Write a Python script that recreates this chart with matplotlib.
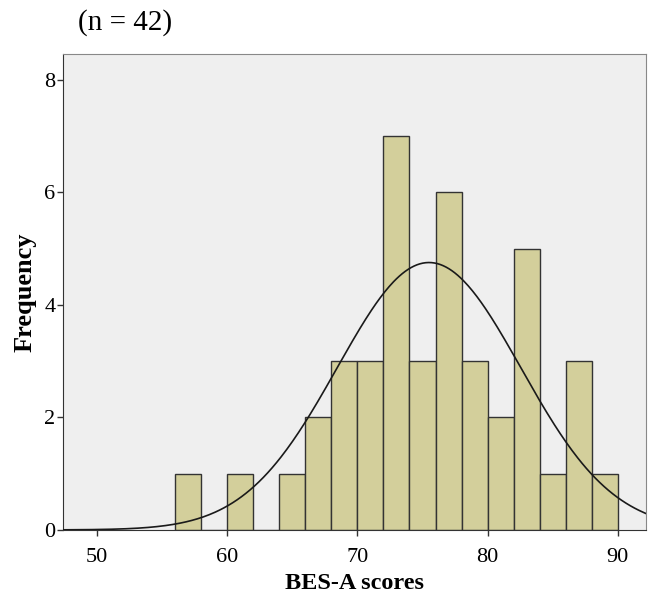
import numpy as np
import matplotlib.pyplot as plt

plt.rcParams['font.family'] = ['Liberation Serif', 'DejaVu Serif']

# histogram bins (left edges) and counts
bin_left = [56, 58, 60, 62, 64, 66, 68, 70, 72, 74, 76, 78, 80, 82, 84, 86, 88]
counts = [1, 0, 1, 0, 1, 2, 3, 3, 7, 3, 6, 3, 2, 5, 1, 3, 1]
bin_width = 2
n_total = 42
curve_mean = 75.5
curve_sd = 7.05

fig = plt.figure(figsize=(6.57, 6.07), dpi=100)
ax = fig.add_axes([0.096, 0.127, 0.887, 0.784])
ax.set_facecolor('#efefef')

ax.bar(bin_left, counts, width=bin_width, align='edge', color='#d3cf9b',
       edgecolor='#333333', linewidth=1.0, zorder=2)

xs = np.linspace(47.4, 92.2, 400)
ys = n_total * bin_width / (curve_sd * np.sqrt(2 * np.pi)) * np.exp(-0.5 * ((xs - curve_mean) / curve_sd) ** 2)
ax.plot(xs, ys, color='#1a1a1a', linewidth=1.2, zorder=3)

ax.set_xlim(47.4, 92.15)
ax.set_ylim(0, 8.46)
ax.set_xticks([50, 60, 70, 80, 90])
ax.set_yticks([0, 2, 4, 6, 8])
ax.tick_params(labelsize=16, length=4, width=1, color='#333333')
ax.tick_params(axis='x', pad=9)
ax.tick_params(axis='y', pad=1.5)
for s in ['top', 'right']:
    ax.spines[s].set_color('#888888')
for s in ['left', 'bottom']:
    ax.spines[s].set_color('#333333')

ax.set_xlabel('BES-A scores', fontsize=17.5, fontweight='bold')
ax.set_ylabel('Frequency', fontsize=19, fontweight='bold')
ax.xaxis.set_label_coords(0.5, -0.09)
ax.yaxis.set_label_coords(-0.045, 0.5)
fig.text(0.118, 0.963, '(n = 42)', fontsize=21, ha='left', va='center')

fig.savefig('out.png', dpi=100)
